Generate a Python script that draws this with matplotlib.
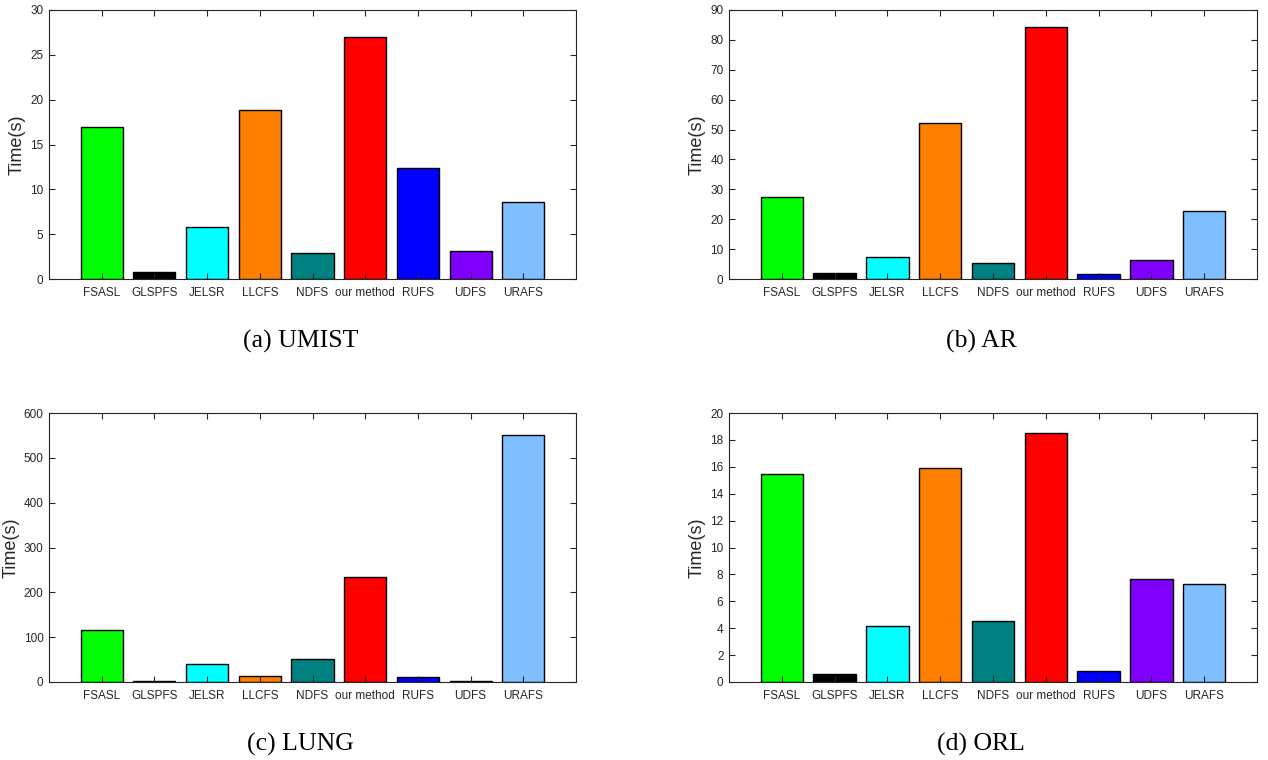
import numpy as np
import matplotlib.pyplot as plt

# methods and colours
methods = ['FSASL', 'GLSPFS', 'JELSR', 'LLCFS', 'NDFS', 'our method', 'RUFS', 'UDFS', 'URAFS']
colors = ['#00ff00', '#000000', '#00ffff', '#ff8000', '#008080', '#ff0000', '#0000ff', '#8000ff', '#80bfff']

# running time (s) per data set
umist = [17.0, 0.8, 5.85, 18.85, 2.95, 27.0, 12.4, 3.15, 8.6]
ar = [27.5, 1.9, 7.5, 52.3, 5.45, 84.4, 1.7, 6.35, 22.7]
lung = [117, 3, 41, 13, 51, 234, 12, 3, 550]
orl = [15.5, 0.57, 4.15, 15.93, 4.56, 18.52, 0.84, 7.63, 7.31]

datasets = [umist, ar, lung, orl]
captions = ['(a) UMIST', '(b) AR', '(c) LUNG', '(d) ORL']
ymax = [30, 90, 600, 20]
ystep = [5, 10, 100, 2]

plt.rcParams['font.family'] = ['Liberation Sans', 'DejaVu Sans']

W, H = 1268, 760
fig = plt.figure(figsize=(W / 100, H / 100), dpi=100)

# axes boxes in pixels: left, top, right, bottom
boxes = [(49, 10, 576, 279), (729, 10, 1257, 279),
         (49, 413, 576, 682), (729, 413, 1257, 682)]
cap_y = [341, 341, 744, 744]

x = np.arange(1, len(methods) + 1)
for i, vals in enumerate(datasets):
    l, t, r, b = boxes[i]
    ax = fig.add_axes([l / W, 1 - b / H, (r - l) / W, (b - t) / H])
    ax.bar(x, vals, width=0.8, color=colors, edgecolor='black', linewidth=1.0)
    ax.set_xlim(0, 10)
    ax.set_ylim(0, ymax[i])
    ax.set_yticks(np.arange(0, ymax[i] + ystep[i] / 2, ystep[i]))
    ax.set_xticks(x)
    ax.set_xticklabels(methods)
    ax.tick_params(direction='in', top=True, right=True, length=4, width=0.8,
                   colors='#262626', labelsize=8.5, pad=4)
    ax.tick_params(axis='x', pad=6)
    for s in ax.spines.values():
        s.set_color('#262626')
        s.set_linewidth(0.8)
    ax.set_ylabel('Time(s)', fontsize=13, color='#262626', labelpad=3)
    # caption centred under the whole panel (axes plus y label)
    fig.text(((l + r) / 2 - 12) / W, 1 - cap_y[i] / H, captions[i], ha='center', va='center',
             fontsize=18.5, family=['Liberation Serif', 'DejaVu Serif'])

fig.savefig('out.png', dpi=100)
